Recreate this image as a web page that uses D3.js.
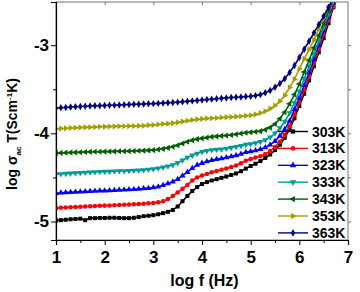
<!DOCTYPE html>
<html>
<head>
<meta charset="utf-8">
<script src="https://cdn.jsdelivr.net/npm/d3@7"></script>
<style>
  body { margin: 0; background: #fff; }
  text { font-family: Arial, "Liberation Sans", sans-serif; font-weight: bold; }
</style>
</head>
<body>
<script>
// log f grid (Hz)
var logF = [1.0,1.1,1.2,1.3,1.4,1.5,1.6,1.7,1.8,1.9,2.0,2.1,2.2,2.3,2.4,2.5,2.6,2.7,2.8,2.9,
  3.0,3.1,3.2,3.3,3.4,3.5,3.6,3.7,3.8,3.9,4.0,4.1,4.2,4.3,4.4,4.5,4.6,4.7,4.8,4.9,
  5.0,5.1,5.2,5.3,5.4,5.5,5.6,5.7,5.8,5.9,6.0,6.1,6.2,6.3,6.4,6.5,6.6,6.7,6.8];

var s303 = [-4.99,-4.985,-4.98,-4.975,-4.972,-4.968,-4.985,-4.962,-4.962,-4.96,-4.96,-4.958,-4.958,-4.96,-4.962,-4.962,-4.958,-4.95,-4.94,-4.935,
  -4.928,-4.918,-4.905,-4.89,-4.87,-4.83,-4.77,-4.71,-4.655,-4.61,-4.575,-4.553,-4.535,-4.52,-4.505,-4.49,-4.472,-4.455,-4.43,-4.40,
  -4.37,-4.345,-4.315,-4.28,-4.24,-4.19,-4.13,-4.05,-3.95,-3.83,-3.69,-3.55,-3.40,-3.24,-3.08,-2.92,-2.75,-2.57,-2.39];
var s313 = [-4.85,-4.845,-4.842,-4.838,-4.835,-4.832,-4.83,-4.827,-4.825,-4.822,-4.82,-4.818,-4.815,-4.813,-4.81,-4.808,-4.805,-4.802,-4.798,-4.794,
  -4.79,-4.783,-4.77,-4.745,-4.712,-4.67,-4.63,-4.585,-4.535,-4.5,-4.478,-4.46,-4.442,-4.428,-4.413,-4.398,-4.382,-4.364,-4.34,-4.31,
  -4.29,-4.275,-4.26,-4.235,-4.2,-4.155,-4.095,-4.02,-3.92,-3.79,-3.65,-3.51,-3.36,-3.20,-3.04,-2.88,-2.72,-2.56,-2.40];
var s323 = [-4.68,-4.675,-4.672,-4.668,-4.665,-4.662,-4.66,-4.657,-4.655,-4.652,-4.65,-4.648,-4.645,-4.642,-4.64,-4.637,-4.634,-4.631,-4.627,-4.622,
  -4.615,-4.605,-4.59,-4.57,-4.548,-4.52,-4.48,-4.44,-4.397,-4.36,-4.338,-4.32,-4.306,-4.295,-4.285,-4.275,-4.262,-4.25,-4.235,-4.215,
  -4.205,-4.195,-4.18,-4.16,-4.13,-4.09,-4.03,-3.955,-3.86,-3.73,-3.6,-3.455,-3.31,-3.16,-3.0,-2.84,-2.68,-2.52,-2.36];
var s333 = [-4.464,-4.46,-4.457,-4.453,-4.45,-4.447,-4.444,-4.441,-4.438,-4.436,-4.434,-4.432,-4.43,-4.428,-4.426,-4.424,-4.422,-4.42,-4.416,-4.411,
  -4.405,-4.396,-4.385,-4.372,-4.358,-4.335,-4.305,-4.275,-4.25,-4.228,-4.21,-4.198,-4.19,-4.184,-4.18,-4.172,-4.162,-4.152,-4.14,-4.128,
  -4.12,-4.11,-4.095,-4.075,-4.045,-4.0,-3.94,-3.865,-3.77,-3.655,-3.525,-3.38,-3.24,-3.1,-2.95,-2.8,-2.65,-2.5,-2.35];
var s343 = [-4.225,-4.222,-4.22,-4.218,-4.216,-4.214,-4.212,-4.21,-4.209,-4.208,-4.207,-4.206,-4.205,-4.204,-4.203,-4.202,-4.2,-4.198,-4.196,-4.193,
  -4.19,-4.184,-4.176,-4.165,-4.152,-4.135,-4.115,-4.096,-4.079,-4.066,-4.057,-4.049,-4.04,-4.034,-4.029,-4.024,-4.018,-4.01,-4.002,-3.994,
  -3.988,-3.982,-3.975,-3.96,-3.935,-3.895,-3.835,-3.76,-3.665,-3.56,-3.44,-3.305,-3.17,-3.03,-2.89,-2.75,-2.61,-2.47,-2.33];
var s353 = [-3.949,-3.946,-3.943,-3.94,-3.937,-3.934,-3.932,-3.93,-3.928,-3.926,-3.924,-3.922,-3.921,-3.92,-3.919,-3.918,-3.917,-3.915,-3.913,-3.909,
  -3.905,-3.9,-3.895,-3.89,-3.884,-3.876,-3.867,-3.858,-3.849,-3.842,-3.836,-3.832,-3.828,-3.825,-3.821,-3.818,-3.814,-3.81,-3.806,-3.8,
  -3.795,-3.785,-3.77,-3.75,-3.72,-3.685,-3.635,-3.57,-3.48,-3.385,-3.27,-3.155,-3.05,-2.94,-2.815,-2.69,-2.575,-2.46,-2.35];
var s363 = [-3.714,-3.71,-3.706,-3.702,-3.699,-3.696,-3.693,-3.69,-3.688,-3.686,-3.684,-3.682,-3.68,-3.678,-3.676,-3.673,-3.671,-3.669,-3.667,-3.665,
  -3.663,-3.66,-3.657,-3.654,-3.65,-3.646,-3.641,-3.636,-3.632,-3.627,-3.622,-3.617,-3.612,-3.607,-3.602,-3.598,-3.594,-3.59,-3.587,-3.583,
  -3.579,-3.572,-3.561,-3.54,-3.515,-3.478,-3.435,-3.38,-3.31,-3.23,-3.14,-3.045,-2.955,-2.86,-2.765,-2.67,-2.57,-2.47,-2.37];

var labels = ["303K", "313K", "323K", "333K", "343K", "353K", "363K"];
var colors = ["#000000", "#ff0000", "#0000ff", "#009a9a", "#006000", "#a0a000", "#000080"];
var xTicks = [1, 2, 3, 4, 5, 6, 7];
var yTicks = [-3, -4, -5];

var allSeries = [s303, s313, s323, s333, s343, s353, s363];

var width = 360, height = 292;
var margin = {top: 2, right: 12, bottom: 52, left: 56};
var w = width - margin.left - margin.right,
    h = height - margin.top - margin.bottom;

var x = d3.scaleLinear().domain([1, 7]).range([0, w]);
var y = d3.scaleLinear().domain([-5.21, -2.51]).range([h, 0]);

var svg = d3.select("body").append("svg")
    .attr("width", width)
    .attr("height", height);
var g = svg.append("g")
    .attr("transform", "translate(" + margin.left + "," + margin.top + ")");

g.append("clipPath").attr("id", "clip")
  .append("rect").attr("width", w).attr("height", h);

// marker shapes: square, circle, up, down, left, right, diamond
var shapes = [
  {t: d3.symbolSquare, r: 0}, {t: d3.symbolCircle, r: 0}, {t: d3.symbolTriangle, r: 0},
  {t: d3.symbolTriangle, r: 180}, {t: d3.symbolTriangle, r: -90}, {t: d3.symbolTriangle, r: 90},
  {t: d3.symbolDiamond, r: 0}
];

var line = d3.line()
  .x(function(d, i) { return x(logF[i]); })
  .y(function(d) { return y(d); });

var plot = g.append("g").attr("clip-path", "url(#clip)");

allSeries.forEach(function(s, k) {
  plot.append("path")
    .attr("d", line(s))
    .attr("fill", "none")
    .attr("stroke", colors[k])
    .attr("stroke-width", 1.6);
  plot.selectAll(".m" + k)
    .data(s)
  .enter().append("path")
    .attr("transform", function(d, i) {
      return "translate(" + x(logF[i]) + "," + y(d) + ") rotate(" + shapes[k].r + ")"; })
    .attr("d", d3.symbol().type(shapes[k].t).size(16))
    .attr("fill", colors[k]);
});

// frame
g.append("rect").attr("width", w).attr("height", h)
  .attr("fill", "none").attr("stroke", "#777").attr("stroke-width", 1);

var fmt = function(d) { return String(d); };

// bottom axis
var xAxis = g.append("g").attr("transform", "translate(0," + h + ")")
  .call(d3.axisBottom(x).tickValues(xTicks).tickSize(5).tickFormat(fmt));
g.append("g").attr("transform", "translate(0," + h + ")")
  .call(d3.axisBottom(x).tickValues([1.5, 2.5, 3.5, 4.5, 5.5, 6.5]).tickSize(3).tickFormat(""))
  .select(".domain").remove();
// left axis
var yAxis = g.append("g")
  .call(d3.axisLeft(y).tickValues(yTicks).tickSize(5).tickFormat(fmt));
g.append("g")
  .call(d3.axisLeft(y).tickValues([-3.5, -4.5]).tickSize(3).tickFormat(""))
  .select(".domain").remove();
// mirrored ticks top / right
g.append("g")
  .call(d3.axisBottom(x).tickValues([2, 3, 4, 5, 6]).tickSize(3).tickFormat(""))
  .call(function(a) { a.select(".domain").remove(); a.selectAll("line").attr("stroke", "#777"); });
g.append("g").attr("transform", "translate(" + w + ",0)")
  .call(d3.axisLeft(y).tickValues([-3, -3.5, -4, -4.5, -5]).tickSize(-3).tickFormat(""))
  .call(function(a) { a.select(".domain").remove(); a.selectAll("line").attr("stroke", "#777"); });

xAxis.select(".domain").attr("stroke", "#000").attr("stroke-width", 1.2);
yAxis.select(".domain").attr("stroke", "#000").attr("stroke-width", 1.2);
xAxis.selectAll("text").attr("font-size", 17).attr("font-weight", "bold")
  .attr("font-family", "Arial, 'Liberation Sans', sans-serif").attr("dy", "0.9em");
yAxis.selectAll("text").attr("font-size", 17).attr("font-weight", "bold")
  .attr("font-family", "Arial, 'Liberation Sans', sans-serif").attr("x", -7);

// axis titles
svg.append("text")
  .attr("x", margin.left + x(4.05)).attr("y", 286)
  .attr("text-anchor", "middle").attr("font-size", 16)
  .text("log f (Hz)");

var yt = svg.append("text")
  .attr("transform", "translate(17,134) rotate(-90)")
  .attr("text-anchor", "middle").attr("font-size", 14);
yt.append("tspan").text("log σ");
yt.append("tspan").attr("font-size", 8).attr("dy", 4).text("ac");
yt.append("tspan").attr("dy", -4).text(" T(Scm");
yt.append("tspan").attr("font-size", 8).attr("dy", -5).text("-1");
yt.append("tspan").attr("dy", 5).text("K)");

// legend
var leg = g.append("g").attr("transform", "translate(" + (278 - margin.left) + "," + (131.5 - margin.top) + ")");
labels.forEach(function(lab, k) {
  var row = leg.append("g").attr("transform", "translate(0," + (k * 16.9) + ")");
  row.append("line").attr("x1", 0).attr("x2", 30)
    .attr("stroke", colors[k]).attr("stroke-width", 1.4);
  row.append("path")
    .attr("transform", "translate(15,0) rotate(" + shapes[k].r + ")")
    .attr("d", d3.symbol().type(shapes[k].t).size(18))
    .attr("fill", colors[k]);
  row.append("text").attr("x", 34).attr("dy", "0.36em")
    .attr("font-size", 14).text(lab);
});
</script>
</body>
</html>
